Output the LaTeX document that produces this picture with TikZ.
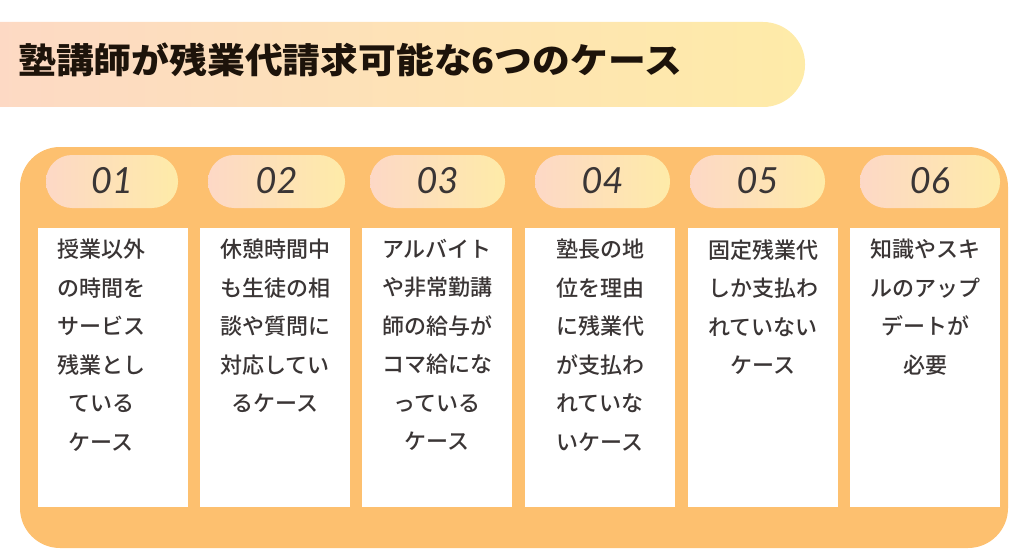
\documentclass[tikz,border=0pt]{standalone}
\usepackage{fontspec}
\newfontfamily\cjk{Noto Sans CJK JP}[BoldFont={Noto Sans CJK JP Black}]
\newfontfamily\cjkm{Noto Sans CJK JP Medium}
\newfontfamily\numf{Lato}
\definecolor{peach}{HTML}{FDD8C6}
\definecolor{lyel}{HTML}{FEEBA8}
\definecolor{orng}{HTML}{FDC06F}
\definecolor{ink}{HTML}{3A3535}
\tikzset{
 pill/.style={rounded corners=26pt,left color=peach,right color=lyel,draw=none},
 col/.style={fill=white,draw=none},
 num/.style={font=\numf\itshape\fontsize{36}{36}\selectfont,text=ink},
 body/.style={font=\cjkm\fontsize{22}{38.5}\selectfont,text=ink,align=center,anchor=north,inner sep=0pt},
}
\begin{document}
\begin{tikzpicture}[x=1pt,y=-1pt]
\useasboundingbox (0,0) rectangle (1024,559);
\path[left color=peach,right color=lyel,rounded corners=42pt] (-60,22) rectangle (805,107);
\node[anchor=west,font=\cjk\bfseries\fontsize{35}{35}\selectfont,text=black!85!brown,inner sep=0pt,xscale=1.08] (title) at (18,60) {塾講師が残業代請求可能な6つのケース};
\fill[orng,rounded corners=40pt] (20,147) rectangle (1008,548);
\foreach \a/\b/\n [count=\i] in {46/178/01,208/345/02,370/505/03,535/670/04,690/825/05,860/1000/06}{
 \path[pill] (\a,155) rectangle (\b,208);
 \node[num] (n\i) at ({(\a+\b)/2},181) {\n};
}
\foreach \a [count=\i] in {38,200,362,525,688,850}{
 \fill[col] (\a,228) rectangle (\a+150,507);
 \coordinate (c\i) at (\a+75,239);
}
\node[body] (t1) at ([xshift=-12pt]c1) {授業以外\\の時間を\\サービス\\残業とし\\ている\\ケース};
\node[body] (t2) at (c2) {休憩時間中\\も生徒の相\\談や質問に\\対応してい\\るケース};
\node[body] (t3) at (c3) {アルバイト\\や非常勤講\\師の給与が\\コマ給にな\\っている\\ケース};
\node[body] (t4) at (c4) {塾長の地\\位を理由\\に残業代\\が支払わ\\れていな\\いケース};
\node[body] (t5) at (c5) {固定残業代\\しか支払わ\\れていない\\ケース};
\node[body] (t6) at (c6) {知識やスキ\\ルのアップ\\デートが\\必要};
\end{tikzpicture}
\end{document}
